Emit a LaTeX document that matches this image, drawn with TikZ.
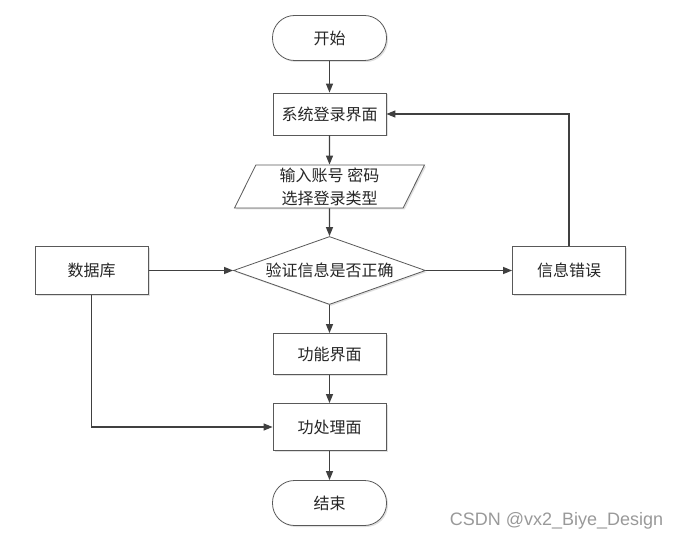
\documentclass[tikz,border=0pt]{standalone}
\usepackage{fontspec}
\setmainfont{Liberation Sans}
\newfontfamily\cjk{Noto Sans CJK SC}
\usetikzlibrary{shapes.geometric,arrows.meta,shadows}

\tikzset{
  box/.style={draw=black!65, line width=0.8pt, fill=white, text=black!85,
    font=\cjk\fontsize{16pt}{23pt}\selectfont,
    drop shadow={shadow xshift=1.5pt, shadow yshift=-1.5pt, fill=black!12, opacity=1}},
  terminal/.style={box, rectangle, rounded corners=22pt, minimum width=114pt, minimum height=45pt},
  process/.style={box, rectangle, minimum width=113pt, minimum height=42pt},
  io/.style={box, trapezium, trapezium left angle=63, trapezium right angle=117,
    trapezium stretches body, minimum width=190pt, minimum height=43pt, inner sep=2pt, align=center},
  decision/.style={box, diamond, aspect=2.8, minimum width=192pt, minimum height=68pt, inner sep=0pt},
  flow/.style={-{Triangle[length=9pt,width=7pt]}, line width=1.2pt, draw=black!75},
}

\begin{document}
\begin{tikzpicture}[node distance=76pt]
\useasboundingbox (0,0) rectangle (680pt,-540pt);
\node[terminal] (start) at (329.5pt,-38pt) {开始};
\node[process, below of=start] (login) {系统登录界面};
\node[io, below of=login, yshift=3.5pt] (input) {输入账号 密码\\选择登录类型};
\node[decision, below of=input, yshift=-8pt] (check) {验证信息是否正确};
\node[process, below of=check, yshift=-7.5pt, minimum height=41pt] (func) {功能界面};
\node[process, below of=func, yshift=3pt, minimum height=47pt] (proc) {功处理面};
\node[terminal, below of=proc] (end) {结束};
\node[process, left of=check, node distance=237.8pt, minimum height=48pt] (db) {数据库};
\node[process, right of=check, node distance=239.5pt, minimum height=48pt] (err) {信息错误};
\draw[flow] (start) -- (login);
\draw[flow] (login) -- (input);
\draw[flow] (input) -- (check);
\draw[flow] (check) -- (func);
\draw[flow] (func) -- (proc);
\draw[flow] (proc) -- (end);
\draw[flow] (db) -- (check);
\draw[flow] (check) -- (err);
\draw[flow] (err.north) |- (login.east);
\draw[flow] (db.south) |- (proc.west);
\node[text=black!40, font=\fontsize{18pt}{20pt}\selectfont] (mark) at (556.5pt,-521pt) {CSDN @vx2\_Biye\_Design};
\end{tikzpicture}
\end{document}
